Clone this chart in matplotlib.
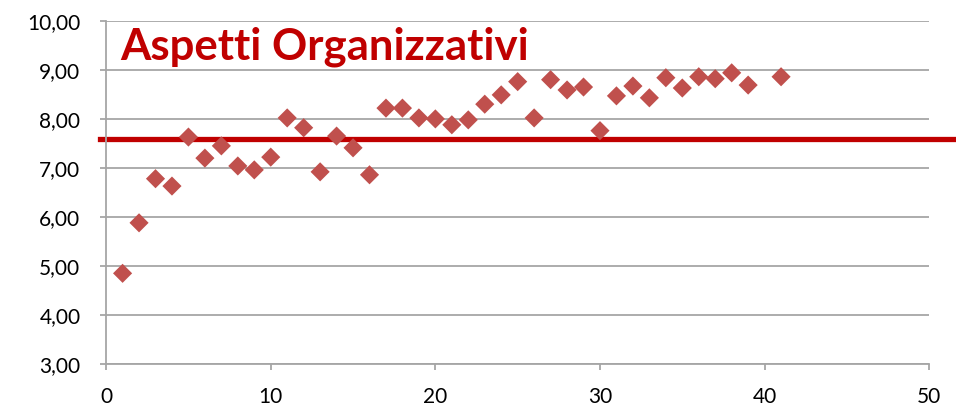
import matplotlib
matplotlib.use('Agg')
import matplotlib.pyplot as plt
from matplotlib.ticker import FuncFormatter

plt.rcParams['font.family'] = ['Lato', 'DejaVu Sans']

# dati: indice (x) e punteggio medio (y)
x_vals = [1, 2, 3, 4, 5, 6, 7, 8, 9, 10,
          11, 12, 13, 14, 15, 16, 17, 18, 19, 20,
          21, 22, 23, 24, 25, 26, 27, 28, 29, 30,
          31, 32, 33, 34, 35, 36, 37, 38, 39, 41]
y_vals = [4.85, 5.88, 6.78, 6.63, 7.63, 7.20, 7.45, 7.04, 6.96, 7.22,
          8.02, 7.82, 6.92, 7.65, 7.41, 6.86, 8.22, 8.22, 8.02, 8.00,
          7.88, 7.98, 8.30, 8.49, 8.76, 8.02, 8.80, 8.59, 8.65, 7.76,
          8.47, 8.67, 8.43, 8.84, 8.63, 8.86, 8.82, 8.94, 8.69, 8.86]
media = 7.60
titolo = 'Aspetti Organizzativi'

GRID = '#a6a6a6'
RED = '#c00000'

fig = plt.figure(figsize=(9.56, 4.09), dpi=100)
ax = fig.add_axes([0.111, 0.110, 0.861, 0.839])

ax.set_xlim(0, 50)
ax.set_ylim(3, 10)
ax.set_xticks(range(0, 51, 10))
ax.set_yticks(range(3, 11))
ax.yaxis.set_major_formatter(FuncFormatter(lambda v, p: f'{v:.2f}'.replace('.', ',')))

ax.grid(axis='y', color=GRID, linewidth=1.3)
ax.set_axisbelow(True)
for s in ['top', 'right']:
    ax.spines[s].set_visible(False)
for s in ['left', 'bottom']:
    ax.spines[s].set_color(GRID)
    ax.spines[s].set_linewidth(1.3)
ax.tick_params(axis='both', which='major', colors=GRID, labelcolor='black',
               labelsize=15, length=4.5, width=1.3)
ax.tick_params(axis='x', which='major', pad=12)
ax.tick_params(axis='y', which='major', pad=14)

# linea della media
ax.axhline(media, xmin=-0.008, xmax=1.04, color=RED, linewidth=3.8, clip_on=False, zorder=2)

ax.scatter(x_vals, y_vals, marker='D', s=95, color='#c0504d', edgecolors='none', zorder=3, clip_on=False)

ax.text(0.017, 0.925, titolo, transform=ax.transAxes, color=RED, fontsize=31.5,
        fontweight='bold', ha='left', va='center')

plt.savefig('out.png', dpi=100)
